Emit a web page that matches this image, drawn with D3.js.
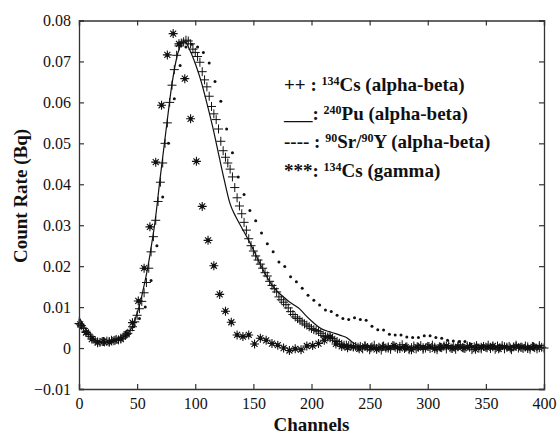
<!DOCTYPE html>
<html>
<head>
<meta charset="utf-8">
<script src="https://cdn.jsdelivr.net/npm/d3@7"></script>
<style>
  html, body { margin: 0; padding: 0; background: #fff; }
  svg { display: block; }
  text { font-family: "Liberation Serif", "Times New Roman", serif; fill: #111; }
</style>
</head>
<body>
<svg id="chart" width="559" height="437"></svg>
<script>
// 134Cs measured on the alpha-beta counter: channels 0..400, step 2
const csAbStart = 0, csAbStep = 2;
const csAlphaBeta = [
  .0060, .0055, .0048, .0041, .0034, .0028, .0022, .0018, .0015, .0014,
  .0016, .0015, .0017, .0016, .0019, .0018, .0021, .0020, .0024, .0027,
  .0031, .0036, .0043, .0052, .0064, .0080, .0096, .0114, .0135, .0160,
  .0195, .0235, .0272, .0312, .0358, .0405, .0452, .0500, .0550, .0600,
  .0642, .0680, .0715, .0738, .0745, .0748, .0752, .0750, .0743, .0730,
  .0722, .0712, .0698, .0675, .0655, .0638, .0615, .0590, .0572, .0558,
  .0535, .0505, .0482, .0466, .0452, .0437, .0418, .0392, .0367, .0347,
  .0328, .0307, .0288, .0267, .0250, .0237, .0225, .0215, .0205, .0195,
  .0184, .0176, .0163, .0153, .0145, .0137, .0125, .0118, .0112, .0106,
  .0098, .0089, .0082, .0076, .0072, .0068, .0064, .0059, .0056, .0052,
  .0048, .0045, .0043, .0040, .0036, .0031, .0028, .0027, .0025, .0023,
  .0019, .0016, .0012, .0009, .0007, .0007, .0006, .0005, .0003, .0004,
  .0002,
  .0004, -.0002, .0006, .0001, -.0004, .0003, .0007, -.0001, .0002, -.0005,
  .0005, .0000, .0003, -.0003, .0006, .0002, -.0002, .0004, .0008, -.0001,
  .0003, -.0004, .0001, .0005, -.0002, .0002, .0006, -.0003, .0000, .0004,
  -.0001, .0007, .0002, -.0004, .0003, .0001, .0005, -.0002, .0006, .0000,
  .0003, -.0003, .0004, .0008, .0001, -.0001, .0005, .0002, -.0004, .0003,
  .0006, .0000, -.0002, .0004, .0002, .0007, -.0001, .0003, -.0003, .0005,
  .0001, .0006, -.0002, .0002, .0004, -.0004, .0003, .0007, .0000, .0002,
  -.0001, .0005, .0003, -.0003, .0004, .0001, -.0002, .0006, .0002, .0000
];

// 240Pu on the alpha-beta counter (solid curve)
const puChannels = [0, 3, 6, 10, 15, 20, 25, 30, 35, 40, 45, 48, 50, 53, 55, 57, 60, 62, 65, 70,
  75, 80, 85, 88, 90, 92, 95, 100, 105, 110, 115, 120, 125, 130, 135, 140, 145, 150, 155, 160,
  165, 170, 175, 180, 185, 190, 195, 200, 205, 210, 215, 220, 225, 230, 235, 240, 245, 250,
  260, 270, 280, 290, 300, 310, 320, 330, 340, 350, 360, 370, 380, 390, 400];
const puAlphaBeta = [.0075, .0060, .0045, .0030, .0018, .0015, .0016, .0018, .0022, .0030,
  .0048, .0068, .0085, .0115, .0140, .0166, .0210, .0245, .0300, .0420,
  .0535, .0645, .0720, .0742, .0748, .0746, .0730, .0695, .0652, .0598,
  .0540, .0475, .0410, .0352, .0320, .0294, .0268, .0240, .0210, .0182,
  .0158, .0140, .0127, .0115, .0105, .0095, .0080, .0066, .0054, .0045,
  .0040, .0036, .0031, .0026, .0015, .0006, .0002, .0001,
  .0002, .0001, .0002, .0001, .0002, .0001, .0002, .0002, .0001, .0002, .0001, .0002, .0001, .0002, .0001];

// 90Sr/90Y on the alpha-beta counter (dots): channels 2..397, step 5
const srStart = 2, srStep = 5;
const srAlphaBeta = [
  .0050, .0035, .0022, .0016, .0015, .0018, .0020, .0025, .0035, .0052,
  .0072, .0100, .0165, .0250, .0369, .0500, .0609, .0690, .0735, .0742,
  .0735, .0722, .0696, .0651, .0603, .0535, .0477, .0418, .0375, .0336,
  .0311, .0281, .0255, .0235, .0210, .0199, .0174, .0162, .0146, .0129,
  .0117, .0105, .0093, .0089, .0080, .0072, .0070, .0074, .0070, .0068,
  .0053, .0045, .0044, .0034, .0032, .0032, .0027, .0026, .0026, .0030,
  .0030, .0026, .0024, .0019, .0017, .0016, .0016, .0010, .0008, .0006,
  .0005, .0004, .0006, .0003, .0004, .0005, .0002, .0004, .0003, .0005
];

// 134Cs on the gamma counter (asterisks): channels 1..396, step 5
const csGStart = 1, csGStep = 5;
const csGamma = [
  .0058, .0038, .0022, .0013, .0016, .0014, .0019, .0022, .0034, .0062,
  .0115, .0195, .0296, .0454, .0593, .0716, .0768, .0743, .0658, .0560,
  .0456, .0346, .0263, .0201, .0131, .0090, .0063, .0032, .0028, .0032,
  .0010, .0024, .0019, .0011, .0007, .0000, -.0006, -.0002, -.0004, .0005,
  .0006, .0011, .0019, .0027, .0010, .0004, .0001, .0003,
  -.0002, .0004, .0001, -.0003, .0003, .0000, .0005, -.0001, .0002, -.0004,
  .0003, .0001, .0004, -.0002, .0002, .0005, -.0001, .0003, .0000, .0004,
  -.0003, .0002, .0001, .0005, -.0002, .0003, .0000, .0004, .0002, -.0001,
  .0003, .0001
];

const xTicks = [0, 50, 100, 150, 200, 250, 300, 350, 400];
const yTicks = [-0.01, 0, 0.01, 0.02, 0.03, 0.04, 0.05, 0.06, 0.07, 0.08];

// legend rows: marker text followed by plain and superscript pieces
const legendRows = [
  { key: "++ : ", parts: [["sup", "134"], ["t", "Cs (alpha-beta)"]] },
  { key: "___: ", parts: [["sup", "240"], ["t", "Pu (alpha-beta)"]] },
  { key: "---- : ", parts: [["sup", "90"], ["t", "Sr/"], ["sup", "90"], ["t", "Y (alpha-beta)"]] },
  { key: "***: ", parts: [["sup", "134"], ["t", "Cs (gamma)"]] }
];

const W = 559, H = 437;
const margin = { left: 79, right: 15, top: 20.5, bottom: 48 };
const svg = d3.select("#chart");

const x = d3.scaleLinear().domain([0, 400]).range([margin.left, W - margin.right]);
const y = d3.scaleLinear().domain([-0.01, 0.08]).range([H - margin.bottom, margin.top]);

const toPts = (start, step, vals) => vals.map((v, i) => [start + i * step, v]);

const plot = svg.append("g");

// frame with inward ticks on all four sides
const axisColor = "#333";
const tickLen = 5;
const axes = svg.append("g");
axes.append("g")
  .attr("transform", `translate(0,${y(-0.01)})`)
  .call(d3.axisBottom(x).tickValues(xTicks).tickSize(-tickLen).tickPadding(9).tickFormat(d3.format("d")));
axes.append("g")
  .attr("transform", `translate(0,${y(0.08)})`)
  .call(d3.axisTop(x).tickValues(xTicks).tickSize(-tickLen).tickFormat(""));
axes.append("g")
  .attr("transform", `translate(${x(0)},0)`)
  .call(d3.axisLeft(y).tickValues(yTicks).tickSize(-tickLen).tickPadding(8)
    .tickFormat(d => d === 0 ? "0" : d3.format(".2f")(d)));
axes.append("g")
  .attr("transform", `translate(${x(400)},0)`)
  .call(d3.axisRight(y).tickValues(yTicks).tickSize(-tickLen).tickFormat(""));
axes.selectAll(".domain").attr("stroke", axisColor).attr("stroke-width", 1.3);
axes.selectAll(".tick line").attr("stroke", axisColor).attr("stroke-width", 1.2);
axes.selectAll(".tick text")
  .style("font-family", '"Liberation Serif", "Times New Roman", serif')
  .style("font-size", "16px").attr("fill", "#111");

// 240Pu curve
plot.append("path")
  .datum(puChannels.map((c, i) => [c, puAlphaBeta[i]]))
  .attr("fill", "none").attr("stroke", "#111").attr("stroke-width", 1.2)
  .attr("d", d3.line().x(d => x(d[0])).y(d => y(d[1])).curve(d3.curveMonotoneX));

// 134Cs alpha-beta pluses
const a = 4.5;
plot.append("g").selectAll("path")
  .data(toPts(csAbStart, csAbStep, csAlphaBeta))
  .join("path")
  .attr("transform", d => `translate(${x(d[0])},${y(d[1])})`)
  .attr("d", `M${-a},0H${a}M0,${-a}V${a}`)
  .attr("stroke", "#111").attr("stroke-width", 1).attr("fill", "none");

// 90Sr/90Y dots
plot.append("g").selectAll("circle")
  .data(toPts(srStart, srStep, srAlphaBeta))
  .join("circle")
  .attr("cx", d => x(d[0])).attr("cy", d => y(d[1])).attr("r", 1.5).attr("fill", "#111");

// 134Cs gamma asterisks
const s = 4.5, sd = 3;
const stars = plot.append("g").selectAll("g")
  .data(toPts(csGStart, csGStep, csGamma))
  .join("g")
  .attr("transform", d => `translate(${x(d[0])},${y(d[1])})`);
stars.append("path")
  .attr("d", `M${-s},0H${s}M0,${-s}V${s}M${-sd},${-sd}L${sd},${sd}M${-sd},${sd}L${sd},${-sd}`)
  .attr("stroke", "#111").attr("stroke-width", 1.1).attr("fill", "none");
stars.append("circle").attr("r", 2).attr("fill", "#111");

// legend
const legend = svg.append("g");
legendRows.forEach((row, i) => {
  const t = legend.append("text")
    .attr("x", 284).attr("y", 91 + i * 28.5)
    .style("font-size", "19px").style("font-weight", "bold");
  t.append("tspan").text(row.key);
  row.parts.forEach(([kind, str]) => {
    if (kind === "sup") {
      t.append("tspan").attr("dy", -6).style("font-size", "12px").text(str);
    } else {
      t.append("tspan").attr("dy", 6).text(str);
    }
  });
});

// axis titles
svg.append("text")
  .attr("x", x(200)).attr("y", 431)
  .attr("text-anchor", "middle")
  .style("font-size", "19px").style("font-weight", "bold")
  .text("Channels");
svg.append("text")
  .attr("transform", `translate(27,196) rotate(-90)`)
  .attr("text-anchor", "middle")
  .style("font-size", "19px").style("font-weight", "bold")
  .text("Count Rate (Bq)");
</script>
</body>
</html>
